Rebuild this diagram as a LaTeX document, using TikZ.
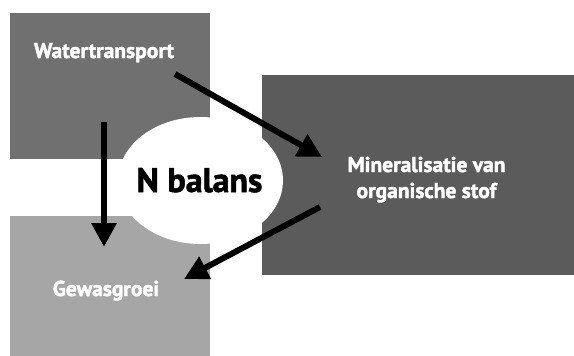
\documentclass[tikz,border=0pt]{standalone}
\usepackage{fontspec}
\setmainfont{PT Sans}
\newfontfamily\heavy{PT Sans Bold}[FakeBold=1.8]
\usetikzlibrary{arrows.meta,shapes.geometric}
\definecolor{boxA}{HTML}{707070}
\definecolor{boxB}{HTML}{5B5B5B}
\definecolor{boxC}{HTML}{A6A6A6}
\tikzset{
  block/.style={draw=none,rectangle,inner sep=0pt},
  lbl/.style={text=white,font=\heavy\fontsize{21.5}{26}\selectfont,align=center,inner sep=0pt,anchor=base},
  flow/.style={line width=6pt,-{Triangle[length=24pt,width=24pt]}},
}
\begin{document}
\begin{tikzpicture}[x=1pt,y=-1pt]
\useasboundingbox (0,0) rectangle (574,356);
\node[block,fill=boxA,minimum width=200pt,minimum height=146pt,anchor=north west] (wt) at (10,13) {};
\node[block,fill=boxB,minimum width=312pt,minimum height=200pt,anchor=north west] (mi) at (262,75) {};
\node[block,fill=boxC,minimum width=200pt,minimum height=140pt,anchor=north west] (gw) at (10,216) {};
\node[ellipse,fill=white,minimum width=165pt,minimum height=127pt,inner sep=0pt] (nb) at (200.5,180.5) {};
\node[font=\heavy\fontsize{34}{38}\selectfont,inner sep=0pt,anchor=base] (nbt) at (199.5,192) {N balans};
\node[lbl] (wtt) at (104,58) {Watertransport};
\node[lbl] (mit) at (426.5,198) {Mineralisatie van\\organische stof};
\node[lbl] (gwt) at (106,296) {Gewasgroei};
\coordinate (a1s) at (175,74);
\coordinate (a1e) at (322,157);
\coordinate (a2s) at (104,122);
\coordinate (a2e) at (104,247);
\coordinate (a3s) at (320,207);
\coordinate (a3e) at (184,279);
\draw[flow] (a1s) -- (a1e);
\draw[flow] (a2s) -- (a2e);
\draw[flow] (a3s) -- (a3e);
\end{tikzpicture}
\end{document}
